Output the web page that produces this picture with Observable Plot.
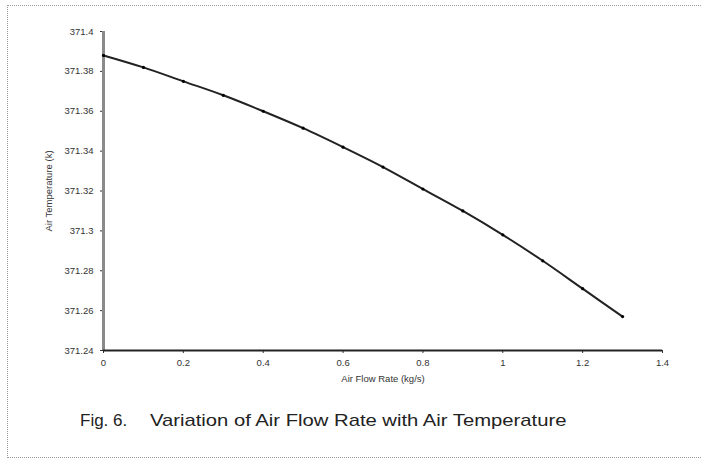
<!DOCTYPE html>
<html>
<head>
<meta charset="utf-8">
<script src="https://cdn.jsdelivr.net/npm/d3@7"></script>
<script src="https://cdn.jsdelivr.net/npm/@observablehq/plot@0.6"></script>
<style>
  html, body { margin: 0; padding: 0; background: #fff; }
  body { width: 701px; height: 458px; position: relative; overflow: hidden; font-family: "Liberation Sans", Arial, sans-serif; }
  #frame { position: absolute; left: 7px; top: 5px; width: 710px; height: 453px; border: 1px dotted #9a9a9a; border-right: none; box-sizing: border-box; }
  #chart { position: absolute; left: 0; top: 0; }
  #caption { position: absolute; left: 80px; top: 411px; font-size: 17px; color: #222; white-space: pre; }
  #caption .num { position: absolute; left: 0; top: 0; }
  #caption .txt { position: absolute; left: 70px; top: 0; display: inline-block; transform: scaleX(1.19); transform-origin: left center; }
</style>
</head>
<body>
<div id="frame"></div>
<div id="chart"></div>
<div id="caption"><span class="num">Fig. 6.</span><span class="txt">Variation of Air Flow Rate with Air Temperature</span></div>
<script>
const flowRate = [0, 0.1, 0.2, 0.3, 0.4, 0.5, 0.6, 0.7, 0.8, 0.9, 1.0, 1.1, 1.2, 1.3];
const airTemp = [371.388, 371.382, 371.375, 371.368, 371.360, 371.3515, 371.342, 371.332, 371.321, 371.310, 371.298, 371.285, 371.271, 371.257];
const xTicks = [0, 0.2, 0.4, 0.6, 0.8, 1.0, 1.2, 1.4];
const yTicks = [371.24, 371.26, 371.28, 371.30, 371.32, 371.34, 371.36, 371.38, 371.40];
const xLabel = "Air Flow Rate (kg/s)";
const yLabel = "Air Temperature (k)";

const data = flowRate.map((x, i) => ({x, y: airTemp[i]}));

const chart = Plot.plot({
  width: 701,
  height: 400,
  marginLeft: 103,
  marginRight: 39,
  marginTop: 31,
  marginBottom: 50,
  style: {fontFamily: "Liberation Sans, Arial, sans-serif", fontSize: "9.5px", color: "#333", background: "transparent"},
  x: {domain: [0, 1.4], ticks: xTicks, tickFormat: d3.format(".1~f"), tickSize: 3, tickPadding: 6, label: xLabel, labelAnchor: "center", labelOffset: 31, labelArrow: "none"},
  y: {domain: [371.24, 371.40], ticks: yTicks, tickFormat: d3.format(".2~f"), tickSize: 3, tickPadding: 7, label: yLabel, labelAnchor: "center", labelOffset: 58, labelArrow: "none"},
  marks: [
    Plot.ruleX([0], {stroke: "#8a8a8a", strokeWidth: 3}),
    Plot.ruleY([371.24], {stroke: "#222", strokeWidth: 2}),
    Plot.line(data, {x: "x", y: "y", stroke: "#222", strokeWidth: 2, curve: "catmull-rom"}),
    Plot.dot(data, {x: "x", y: "y", r: 1.6, fill: "#000", stroke: "none"})
  ]
});
document.getElementById("chart").appendChild(chart);
</script>
</body>
</html>
